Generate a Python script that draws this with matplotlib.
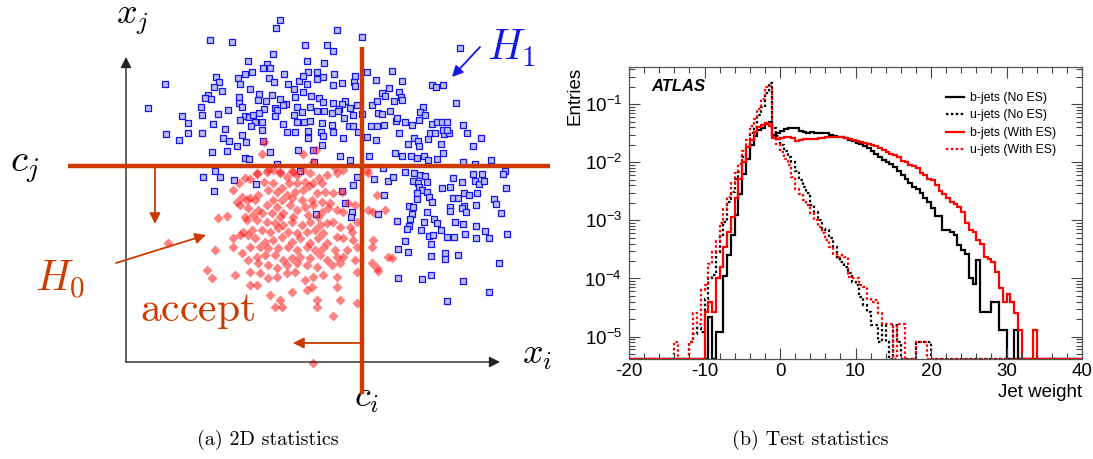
import numpy as np
import matplotlib
matplotlib.use("Agg")
import matplotlib.pyplot as plt
from matplotlib.lines import Line2D
from matplotlib.ticker import MultipleLocator, LogLocator, NullFormatter, LogFormatterSciNotation

plt.rcParams['mathtext.fontset'] = 'cm'
plt.rcParams['axes.unicode_minus'] = False

# ---------------- left: rectangular cut sketch (sketch units, y grows downward) ----------------
h1_x = [280, 276, 210, 232, 305, 327, 273, 248, 267, 307, 324, 252, 263, 270, 284, 308, 317, 216, 238, 245,
        323, 165, 219, 222, 214, 240, 269, 274, 288, 294, 299, 303, 307, 317, 208, 211, 205, 239, 250, 259,
        272, 266, 280, 286, 295, 303, 311, 319, 323, 148, 201, 239, 242, 258, 275, 277, 283, 297, 310, 317,
        324, 182, 202, 218, 228, 264, 245, 249, 253, 259, 255, 262, 240, 275, 283, 294, 302, 297, 304, 310,
        322, 188, 213, 225, 251, 262, 287, 295, 308, 321, 166, 188, 202, 242, 223, 229, 246, 263, 308, 323,
        179, 237, 227, 212, 270, 298, 313, 322, 245, 249, 314, 300, 277,
        337, 362, 333, 460, 334, 355, 354, 367, 392, 376, 402, 333, 342, 432, 436, 443, 355, 389, 382, 385,
        399, 401, 333, 345, 342, 339, 350, 357, 372, 377, 394, 402, 423, 420, 425, 456, 332, 338, 353, 362,
        378, 382, 390, 344, 349, 353, 371, 377, 384, 396, 397, 405, 412, 419, 432, 437, 442, 447, 463, 332,
        333, 358, 367, 399, 343, 376, 408, 414, 418, 428, 430, 435, 441, 444, 449, 443, 447, 467, 481, 473,
        419,
        203, 215, 220, 234, 256, 214, 316,
        340, 350, 369, 395, 402, 411, 417, 424, 428, 437, 443, 463, 491, 475, 505, 503, 383, 405, 414, 420,
        425, 357, 374, 388, 393, 413, 418, 427, 453, 462, 473, 475, 482, 479, 484, 353, 419, 422, 427, 442,
        450, 506, 384, 417, 417, 429, 432, 453, 458, 464, 469, 477, 476, 464, 462, 466, 450, 450, 494, 496,
        409, 413, 427, 412, 378, 501, 410, 397, 424, 434, 437, 455, 463, 476, 409, 407, 421, 441, 485, 429,
        433, 447, 454, 465, 476, 489, 507, 405, 431, 398, 408, 431, 445, 445, 458, 499, 398, 422, 431, 463,
        489, 447, 342, 345, 352, 351]
h1_y = [20, 28, 40, 42, 45, 45, 54, 61, 64, 61, 63, 72, 68, 68, 74, 72, 72, 77, 78, 74,
        77, 84, 82, 91, 87, 84, 78, 82, 84, 89, 81, 76, 84, 79, 95, 99, 98, 97, 89, 94,
        95, 101, 99, 104, 97, 92, 96, 98, 102, 108, 107, 103, 107, 100, 108, 110, 105, 107, 107, 111,
        111, 116, 115, 114, 110, 109, 116, 117, 115, 113, 122, 122, 120, 116, 124, 115, 112, 122, 122, 121,
        123, 123, 124, 129, 126, 130, 132, 132, 131, 132, 134, 133, 133, 135, 138, 141, 142, 141, 138, 136,
        140, 146, 151, 152, 152, 150, 150, 145, 158, 159, 162, 171, 164,
        30, 37, 51, 48, 74, 76, 82, 72, 71, 80, 81, 85, 83, 85, 87, 85, 86, 88, 93, 96,
        92, 97, 103, 101, 104, 109, 108, 105, 105, 101, 101, 100, 107, 112, 115, 103, 113, 111, 115, 114,
        113, 114, 111, 118, 126, 126, 126, 126, 125, 121, 118, 122, 125, 120, 124, 122, 122, 122, 125, 125,
        132, 132, 137, 133, 138, 140, 144, 138, 141, 139, 133, 133, 144, 134, 133, 130, 130, 133, 138, 146,
        146,
        177, 171, 177, 180, 184, 191, 214,
        156, 160, 156, 153, 156, 156, 158, 156, 160, 159, 153, 162, 160, 164, 171, 174, 168, 172, 173, 175,
        176, 177, 179, 181, 177, 181, 183, 182, 178, 182, 174, 181, 174, 184, 181, 185, 187, 190, 192, 188,
        187, 188, 195, 193, 199, 197, 202, 198, 198, 193, 195, 193, 205, 206, 208, 212, 207, 211, 199, 204,
        206, 207, 212, 214, 214, 213, 219, 221, 222, 219, 223, 222, 224, 226, 226, 229, 230, 230, 231, 236,
        235, 237, 237, 234, 238, 238, 234, 241, 244, 249, 252, 256, 253, 259, 255, 263, 278, 279, 275, 281,
        292, 301, 191, 203, 212, 217]

h0_x = [250, 257, 267, 273, 280, 287, 292, 297, 303, 310, 319, 327, 239, 245, 264, 273, 289, 297, 305, 313,
        322, 233, 242, 250, 258, 268, 277, 282, 287, 295, 303, 309, 317, 325, 237, 247, 255, 273, 282, 292,
        302, 312, 322, 240, 248, 258, 267, 277, 283, 290, 297, 305, 313, 322, 328, 245, 253, 262, 272, 280,
        293, 308, 318, 218, 227, 247, 257, 267, 275, 283, 292, 302, 310, 320, 327, 243, 252, 262, 270, 278,
        288, 297, 307, 315, 323, 233, 240, 248, 255, 265, 273, 282, 292, 300, 310, 318, 327, 233, 215, 250,
        260, 268, 278, 288, 297, 307, 315, 323, 242, 248, 257, 265, 275, 283, 292, 300, 310, 320, 327, 258,
        268, 277, 287, 297, 307, 317, 207, 212, 235, 250, 260, 268, 277, 287, 295, 305, 313, 323, 250, 257,
        270, 280, 292, 312, 317, 307, 275, 282, 317, 313, 168,
        337, 343, 333, 342, 348, 355, 337, 343, 333, 340, 350, 357, 337, 343, 353, 357, 335, 347, 337, 343,
        332, 340, 355, 337, 357, 337, 340, 357, 333, 368, 373, 385, 377, 373, 372, 372, 377, 388, 392, 378,
        367, 368, 330, 352,
        264, 262, 303, 316, 313, 257, 268, 280, 293, 335]
h0_y = [179, 174, 172, 170, 173, 177, 171, 175, 170, 173, 178, 175, 183, 178, 182, 183, 183, 183, 182, 183,
        183, 190, 197, 198, 195, 190, 192, 188, 195, 192, 190, 186, 193, 192, 202, 200, 200, 200, 200, 198,
        200, 200, 202, 205, 208, 210, 205, 207, 213, 205, 210, 207, 205, 212, 208, 217, 215, 213, 213, 217,
        217, 215, 217, 218, 216, 220, 220, 222, 223, 225, 222, 225, 222, 225, 223, 232, 230, 230, 232, 228,
        232, 233, 232, 230, 233, 238, 235, 235, 238, 242, 240, 237, 242, 238, 243, 238, 243, 247, 250, 247,
        247, 248, 248, 247, 250, 247, 250, 248, 253, 260, 257, 255, 255, 260, 258, 257, 258, 255, 260, 263,
        265, 268, 265, 263, 265, 267, 270, 278, 275, 272, 273, 278, 277, 273, 272, 280, 277, 275, 285, 285,
        295, 300, 292, 287, 300, 290, 307, 307, 307, 363, 243,
        173, 170, 193, 192, 203, 205, 210, 212, 222, 227, 227, 222, 237, 238, 240, 247, 250, 250, 257, 257,
        265, 263, 260, 277, 272, 287, 300, 303, 316, 210, 212, 210, 195, 240, 247, 263, 268, 257, 258, 271,
        170, 173, 203, 232,
        142, 154, 154, 150, 162, 173, 170, 172, 172, 168]

cut_i = 362   # position of c_i on the x_i axis
cut_j = 166   # position of c_j on the x_j axis

# ---------------- right: jet weight, 0.5 wide bins, log10(entries), None = empty bin ----------------
b_noes_start = -9.5
b_noes = [-4.66, None, -4.92, -4.92, -3.95, -3.60, -3.25, -2.90, -2.55, -2.20, -1.95, -1.70, -1.55, -1.45,
          -1.40, -1.33, -1.31, -1.53, -1.50, -1.46, -1.43, -1.41, -1.40, -1.41, -1.46, -1.48, -1.49, -1.48,
          -1.49, -1.50, -1.50, -1.49, -1.52, -1.55, -1.56, -1.57, -1.58, -1.61, -1.64, -1.67, -1.69, -1.72,
          -1.76, -1.80, -1.85, -1.90, -1.96, -1.99, -2.03, -2.08, -2.15, -2.21, -2.28, -2.36, -2.42, -2.46,
          -2.53, -2.61, -2.68, -2.79, -2.93, -2.93, -3.17, -3.17, -3.20, -3.25, -3.43, -3.51, -3.57, -4.00,
          -4.09, -3.68, -4.57, -4.57, -4.57, -4.40, -4.40, -4.89, -4.89, None, None, -4.89]

u_noes_start = -12.0
u_noes = [-5.09, -4.95, -4.86, -4.92, -4.35, -4.00, -3.94, -3.54, -3.25, -3.02, -2.68, -2.51, -2.28, -2.16,
          -1.90, -1.79, -1.50, -1.39, -1.18, -1.04, -0.81, -0.64, -1.41, -1.55, -1.70, -1.80, -1.90, -2.00,
          -2.15, -2.30, -2.42, -2.53, -2.74, -2.85, -2.99, -3.14, -3.17, -3.31, -3.45, -3.66, -3.71, -3.80,
          -3.91, -4.06, -4.12, -4.32, -4.46, -4.57, -4.80, -4.80, -5.09, -4.80, -5.09, None, -4.80, -5.09,
          None, None, None, None, -5.09, -5.09, -5.09, -5.09]

b_es_start = -10.0
b_es = [-4.57, -4.40, -4.57, -4.00, -3.80, -3.45, -3.20, -2.94, -2.62, -2.28, -1.99, -1.73, -1.62, -1.47,
        -1.39, -1.36, -1.32, -1.37, -1.58, -1.60, -1.58, -1.56, -1.56, -1.58, -1.64, -1.62, -1.60, -1.60,
        -1.59, -1.59, -1.58, -1.58, -1.57, -1.57, -1.56, -1.56, -1.57, -1.58, -1.60, -1.62, -1.64, -1.65,
        -1.67, -1.68, -1.70, -1.72, -1.75, -1.78, -1.82, -1.85, -1.88, -1.91, -1.97, -2.00, -2.05, -2.07,
        -2.10, -2.18, -2.22, -2.28, -2.31, -2.39, -2.49, -2.55, -2.62, -2.68, -2.72, -2.76, -2.85, -3.05,
        -3.17, -3.20, -3.34, -3.40, -3.63, -3.66, -3.71, -3.89, -4.17, -4.40, -4.26, -4.40, -4.60, -4.89,
        None, None, None, -4.89]

u_es_start = -14.0
u_es = [-5.09, None, None, None, -5.09, -4.60, -4.78, -4.20, -4.12, -3.75, -3.55, -3.35, -3.05, -2.80,
        -2.60, -2.35, -2.18, -2.02, -1.80, -1.62, -1.38, -1.25, -1.08, -0.90, -0.70, -0.68, -1.56, -1.68,
        -1.82, -1.95, -2.05, -2.25, -2.45, -2.55, -2.65, -2.74, -2.88, -3.00, -3.12, -3.22, -3.34, -3.45,
        -3.57, -3.63, -3.60, -3.63, -3.97, -4.00, -4.00, -4.12, -4.14, -4.35, -4.40, -4.37, -4.60, -4.78,
        -4.78, -4.78, None, -4.78, -4.78, None, None, None, -5.09, -5.09, -5.09]

series_labels = ['b-jets (No ES)', 'u-jets (No ES)', 'b-jets (With ES)', 'u-jets (With ES)']

orange = '#cc3a00'
blue = '#1515e6'

fig = plt.figure(figsize=(10.93, 4.59), dpi=100)

# ---- sketch panel ----
ax_l = fig.add_axes([0, 39 / 459, 560 / 1093, 420 / 459])
ax_l.set_xlim(0, 560)
ax_l.set_ylim(420, 0)
ax_l.axis('off')

ax_l.scatter(h1_x, h1_y, marker='s', s=18, facecolor='#b8bcf8', edgecolor=blue, linewidths=0.9, zorder=2)
ax_l.scatter(h0_x, h0_y, marker='D', s=26, color='#ff1a1a', alpha=0.55, linewidths=0, zorder=3)

axis_kw = dict(arrowstyle='-|>', lw=1.0, color='#222222', mutation_scale=16, shrinkA=0, shrinkB=0)
ax_l.annotate('', xy=(126, 57), xytext=(126, 362), arrowprops=axis_kw)
ax_l.annotate('', xy=(500, 362), xytext=(126, 362), arrowprops=axis_kw)

ax_l.plot([68, 550], [cut_j, cut_j], color=orange, lw=3.2, solid_capstyle='butt', zorder=5)
ax_l.plot([cut_i, cut_i], [47, 394], color=orange, lw=3.2, solid_capstyle='butt', zorder=5)

arr_kw = dict(arrowstyle='-|>', lw=1.3, color=orange, mutation_scale=16, shrinkA=0, shrinkB=0)
ax_l.annotate('', xy=(155, 224), xytext=(155, cut_j), arrowprops=arr_kw, zorder=5)
ax_l.annotate('', xy=(293, 343), xytext=(cut_i, 343), arrowprops=arr_kw, zorder=5)
ax_l.annotate('', xy=(206, 235), xytext=(116, 263), arrowprops=arr_kw, zorder=5)
ax_l.annotate('', xy=(452, 77), xytext=(480, 47),
              arrowprops=dict(arrowstyle='-|>', lw=1.3, color=blue, mutation_scale=16, shrinkA=0, shrinkB=0))

ax_l.text(132, 20, r'$x_j$', fontsize=26, ha='center', va='center')
ax_l.text(537, 355, r'$x_i$', fontsize=26, ha='center', va='center')
ax_l.text(25, 166, r'$c_j$', fontsize=28, ha='center', va='center')
ax_l.text(367, 398, r'$c_i$', fontsize=26, ha='center', va='center')
ax_l.text(512, 48, r'$H_1$', fontsize=30, color=blue, ha='center', va='center')
ax_l.text(60, 280, r'$H_0$', fontsize=30, color=orange, ha='center', va='center')
ax_l.text(198, 310, r'$\mathrm{accept}$', fontsize=30, color=orange, ha='center', va='center')

# ---- jet weight panel ----
edges = np.arange(-20, 40.25, 0.5)
y_min, y_max = 4.1e-6, 0.44


def to_hist(start, logs):
    vals = np.full(len(edges) - 1, y_min)
    i0 = int(round((start - edges[0]) / 0.5))
    for k, lg in enumerate(logs):
        if lg is not None:
            vals[i0 + k] = 10.0 ** lg
    return vals


ax_r = fig.add_axes([629 / 1093, 100 / 459, 453 / 1093, 292 / 459])
dot = (0, (1.1, 1.1))
styles = [('black', '-'), ('black', dot), ('#ff0000', '-'), ('#ff0000', dot)]
data = [(b_noes_start, b_noes), (u_noes_start, u_noes), (b_es_start, b_es), (u_es_start, u_es)]
handles = []
for (start, logs), (col, ls), lab in zip(data, styles, series_labels):
    ax_r.stairs(to_hist(start, logs), edges, baseline=None, color=col, linestyle=ls, lw=1.6)
    handles.append(Line2D([], [], color=col, linestyle=ls, lw=1.6, label=lab))

ax_r.set_yscale('log')
ax_r.set_xlim(-20, 40)
ax_r.set_ylim(y_min, y_max)
ax_r.xaxis.set_major_locator(MultipleLocator(10))
ax_r.xaxis.set_minor_locator(MultipleLocator(2))
ax_r.yaxis.set_major_locator(LogLocator(base=10))
ax_r.yaxis.set_minor_locator(LogLocator(base=10, subs=np.arange(2, 10)))
ax_r.yaxis.set_minor_formatter(NullFormatter())
ax_r.yaxis.set_major_formatter(LogFormatterSciNotation())

rfont = 'Liberation Sans'
ax_r.tick_params(which='both', direction='in', top=True, right=True, width=0.8, color='#444444')
ax_r.tick_params(which='major', length=8, labelsize=13.5)
ax_r.tick_params(axis='x', which='major', pad=3)
ax_r.tick_params(axis='y', which='major', pad=5)
ax_r.tick_params(which='minor', length=4)
for lab in ax_r.get_xticklabels() + ax_r.get_yticklabels():
    lab.set_fontfamily(rfont)
for sp in ax_r.spines.values():
    sp.set_color('#555555')
    sp.set_linewidth(0.9)

ax_r.set_xlabel('Jet weight', fontsize=13.5, fontfamily=rfont, loc='right')
ax_r.xaxis.set_label_coords(1.0, -0.085)
ax_r.set_ylabel('Entries', fontsize=13.5, fontfamily=rfont, loc='top')
ax_r.yaxis.set_label_coords(-0.1, 1.0)

ax_r.text(0.05, 0.933, 'ATLAS', transform=ax_r.transAxes, fontsize=12, fontfamily=rfont,
          fontweight='bold', fontstyle='italic', va='center', ha='left')

ax_r.legend(handles=handles, loc='upper left', bbox_to_anchor=(0.70, 0.915), frameon=False,
            prop={'family': rfont, 'size': 8.8}, handlelength=1.5, handletextpad=0.45,
            labelspacing=0.45, borderpad=0, borderaxespad=0)

fig.text(268 / 1093, 1 - 440 / 459, '(a) 2D statistics', fontfamily='cmr10', fontsize=14.5,
         ha='center', va='center')
fig.text(810 / 1093, 1 - 440 / 459, '(b) Test statistics', fontfamily='cmr10', fontsize=14.5,
         ha='center', va='center')

fig.savefig('out.png', dpi=100)
